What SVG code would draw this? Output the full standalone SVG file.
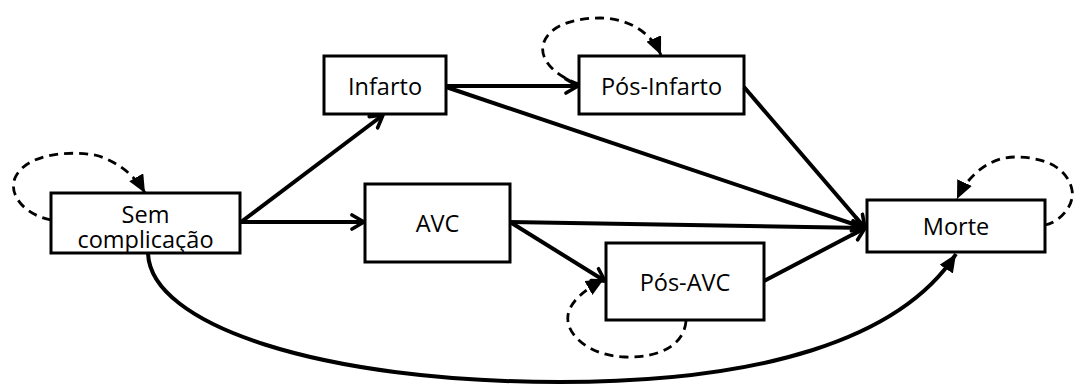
<svg xmlns="http://www.w3.org/2000/svg" width="1074" height="390" viewBox="0 0 1074 390">
<style>
.box{fill:#fff;stroke:#000;stroke-width:3}
.lbl{font-family:"Open Sans","DejaVu Sans",sans-serif;font-size:23.5px;fill:#000;text-anchor:middle}
.solid{fill:none;stroke:#000;stroke-width:4}
.dash{fill:none;stroke:#000;stroke-width:2.8;stroke-dasharray:9 6}
</style>
<defs>
<marker id="chev" markerUnits="userSpaceOnUse" viewBox="0 0 16 18" refX="14" refY="9" markerWidth="16" markerHeight="18" orient="auto">
<path d="M2,2 L14,9 L2,16" fill="none" stroke="#000" stroke-width="3.6" stroke-linecap="round" stroke-linejoin="round"/>
</marker>
<marker id="tri" markerUnits="userSpaceOnUse" viewBox="0 0 18 16" refX="18" refY="8" markerWidth="18" markerHeight="16" orient="auto">
<path d="M0,0 L18,8 L0,16 Z" fill="#000"/>
</marker>
</defs>
<g id="nodes">
<g id="sem"><rect class="box" x="51" y="193" width="189" height="60"/><text class="lbl"><tspan x="145.5" y="223">Sem</tspan><tspan x="145.5" y="248">complicação</tspan></text></g>
<g id="infarto"><rect class="box" x="324" y="56" width="122" height="58"/><text class="lbl" x="385" y="95">Infarto</text></g>
<g id="posinfarto"><rect class="box" x="579" y="56" width="165" height="58"/><text class="lbl" x="661.5" y="95">Pós-Infarto</text></g>
<g id="avc"><rect class="box" x="365" y="184" width="145" height="78"/><text class="lbl" x="437.5" y="232">AVC</text></g>
<g id="posavc"><rect class="box" x="606" y="243" width="158" height="77"/><text class="lbl" x="685" y="291">Pós-AVC</text></g>
<g id="morte"><rect class="box" x="867" y="200" width="178" height="52"/><text class="lbl" x="956" y="235">Morte</text></g>
</g>
<g id="connectors">
<path class="solid" marker-end="url(#chev)" d="M241,222 L383,115"/>
<path class="solid" marker-end="url(#chev)" d="M241,222 L364,222"/>
<path class="solid" marker-end="url(#chev)" d="M446,86 L578,86"/>
<path class="solid" marker-end="url(#chev)" d="M446,87 L865,228"/>
<path class="solid" marker-end="url(#chev)" d="M744,87 L865,228"/>
<path class="solid" marker-end="url(#chev)" d="M510,222 L865,228"/>
<path class="solid" marker-end="url(#chev)" d="M510,222 L605,281"/>
<path class="solid" marker-end="url(#chev)" d="M764,281 L865,228"/>
<path class="solid" marker-end="url(#tri)" d="M148,253 C 150,325 320,382 560,382 C 760,382 900,340 956,254"/>
<path class="dash" marker-end="url(#tri)" d="M51,220 C 25,215 8,195 15,178 C 25,155 65,150 95,155 C 115,160 135,175 145,193"/>
<path class="dash" marker-end="url(#tri)" d="M579,84 C 555,76 540,60 543,45 C 548,25 575,18 600,18 C 625,18 650,30 661,55"/>
<path class="dash" marker-end="url(#tri)" d="M1045,225 C 1060,222 1075,205 1072,190 C 1067,165 1040,157 1015,157 C 990,157 968,175 957,199"/>
<path class="dash" marker-end="url(#tri)" d="M686,321 C 684,345 660,358 625,357 C 590,356 565,335 568,315 C 571,300 585,290 604,279"/>
</g>
</svg>
